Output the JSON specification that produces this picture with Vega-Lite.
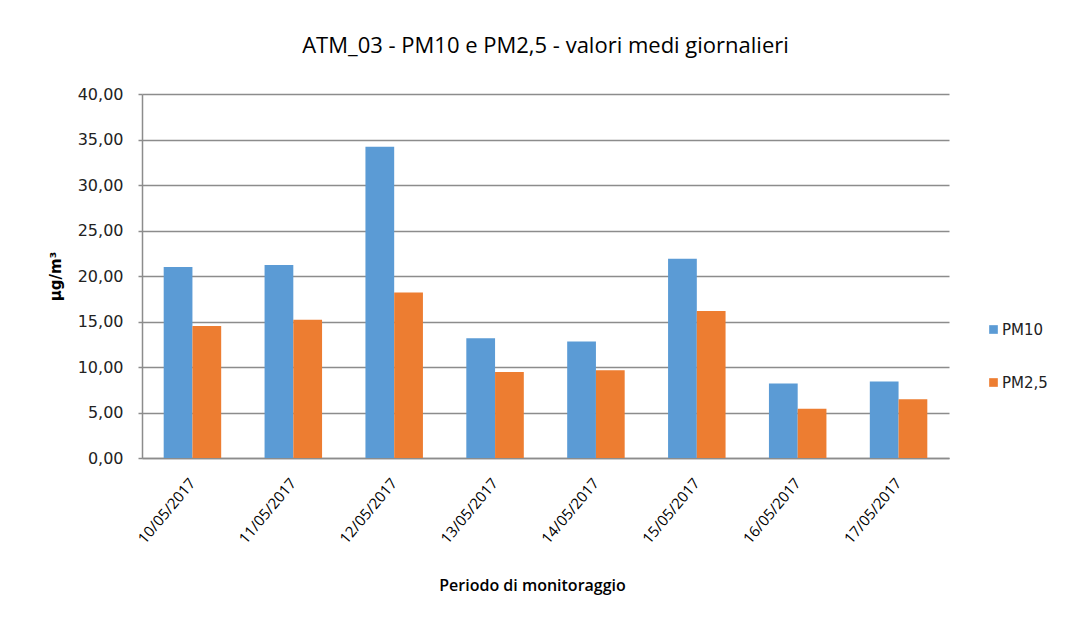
{
  "$schema": "https://vega.github.io/schema/vega-lite/v6.json",
  "autosize": "none",
  "width": 807,
  "height": 364,
  "padding": {"left": 142, "top": 94, "right": 133, "bottom": 165},
  "background": "white",
  "title": {
    "text": "ATM_03 - PM10 e PM2,5 - valori medi giornalieri",
    "font": "Open Sans",
    "fontSize": 22,
    "fontWeight": "normal",
    "color": "#000000",
    "anchor": "middle",
    "offset": 28
  },
  "data": {
    "values": [
      {"data": "10/05/2017", "serie": "PM10", "valore": 21.0},
      {"data": "10/05/2017", "serie": "PM2,5", "valore": 14.5},
      {"data": "11/05/2017", "serie": "PM10", "valore": 21.2},
      {"data": "11/05/2017", "serie": "PM2,5", "valore": 15.2},
      {"data": "12/05/2017", "serie": "PM10", "valore": 34.2},
      {"data": "12/05/2017", "serie": "PM2,5", "valore": 18.2},
      {"data": "13/05/2017", "serie": "PM10", "valore": 13.15},
      {"data": "13/05/2017", "serie": "PM2,5", "valore": 9.45},
      {"data": "14/05/2017", "serie": "PM10", "valore": 12.8},
      {"data": "14/05/2017", "serie": "PM2,5", "valore": 9.65},
      {"data": "15/05/2017", "serie": "PM10", "valore": 21.9},
      {"data": "15/05/2017", "serie": "PM2,5", "valore": 16.15},
      {"data": "16/05/2017", "serie": "PM10", "valore": 8.2},
      {"data": "16/05/2017", "serie": "PM2,5", "valore": 5.4},
      {"data": "17/05/2017", "serie": "PM10", "valore": 8.4},
      {"data": "17/05/2017", "serie": "PM2,5", "valore": 6.45}
    ]
  },
  "mark": {"type": "bar"},
  "encoding": {
    "x": {
      "field": "data",
      "type": "nominal",
      "sort": null,
      "scale": {"paddingInner": 0.43, "paddingOuter": 0.215},
      "axis": {
        "title": "Periodo di monitoraggio",
        "titleFont": "Open Sans",
        "titleFontSize": 16,
        "titleFontWeight": 600,
        "titleColor": "#000000",
        "titleX": 390,
        "titleY": 127,
        "titleBaseline": "middle",
        "labelAngle": -50,
        "labelAlign": "right",
        "labelBaseline": "middle",
        "labelFont": "Open Sans",
        "labelFontSize": 15,
        "labelColor": "#000000",
        "labelPadding": 22,
        "ticks": false,
        "domainColor": "#8c8c8c",
        "domainWidth": 1.5
      }
    },
    "xOffset": {"field": "serie", "type": "nominal", "sort": ["PM10", "PM2,5"]},
    "y": {
      "field": "valore",
      "type": "quantitative",
      "scale": {"domain": [0, 40]},
      "axis": {
        "title": "µg/m³",
        "titleFont": "DejaVu Sans",
        "titleFontSize": 15,
        "titleFontWeight": "bold",
        "titleColor": "#000000",
        "titleX": -82,
        "titleY": 182,
        "titleBaseline": "alphabetic",
        "titleAngle": -90,
        "values": [0, 5, 10, 15, 20, 25, 30, 35, 40],
        "labelExpr": "replace(format(datum.value, '.2f'), '.', ',')",
        "labelFont": "DejaVu Sans",
        "labelFontSize": 16,
        "labelColor": "#222222",
        "labelPadding": 15,
        "tickSize": 4,
        "tickColor": "#8c8c8c",
        "tickWidth": 1.5,
        "domainColor": "#8c8c8c",
        "domainWidth": 1.5,
        "grid": true,
        "gridColor": "#8c8c8c",
        "gridWidth": 1.5
      }
    },
    "color": {
      "field": "serie",
      "type": "nominal",
      "sort": ["PM10", "PM2,5"],
      "scale": {"domain": ["PM10", "PM2,5"], "range": ["#5B9BD5", "#ED7D31"]},
      "legend": {
        "title": null,
        "orient": "none",
        "legendX": 844,
        "legendY": 228,
        "symbolType": "square",
        "symbolSize": 75,
        "symbolStrokeWidth": 0,
        "labelFont": "DejaVu Sans",
        "labelFontSize": 15,
        "labelColor": "#222222",
        "labelOffset": 1,
        "rowPadding": 37
      }
    }
  },
  "config": {
    "view": {"stroke": null}
  }
}
